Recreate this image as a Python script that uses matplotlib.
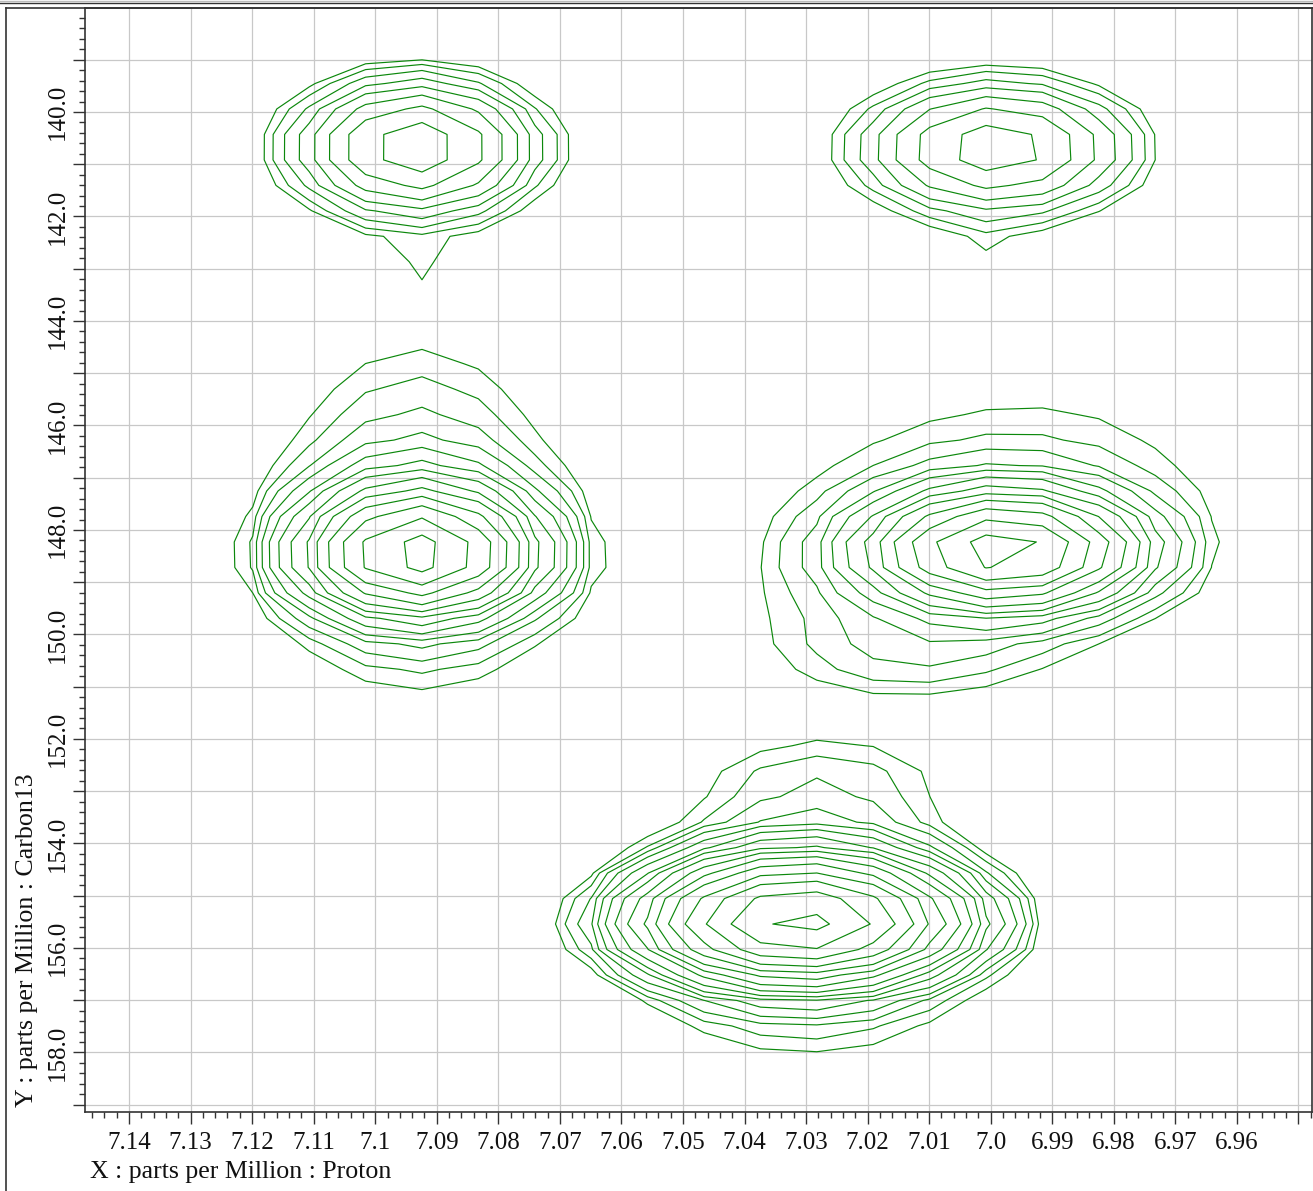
import numpy as np
import matplotlib
matplotlib.use("Agg")
import matplotlib.pyplot as plt
from matplotlib.ticker import FixedLocator, MultipleLocator
from matplotlib.lines import Line2D

plt.rcParams['font.family'] = ['Liberation Serif', 'DejaVu Serif']

# ---- sampling grid of the 2D spectrum (ppm) ----
proton_ppm = 7.0924 - 0.009164 * np.arange(-8, 18)
carbon_ppm = 148.23 + 0.4875 * np.arange(-23, 26)

# ---- spectral components (split Gaussians) ----
# centre (1H, 13C), height, 1H width, 13C width toward low / high ppm, skew
comp_h_ppm = [7.0935, 6.9992, 7.0932, 7.0932, 6.9980, 7.0024, 7.0140,
              7.0310, 7.0280, 7.0300, 7.0924, 7.0008]
comp_c_ppm = [140.67, 140.69, 148.48, 148.48, 148.40, 148.44, 150.40,
              155.50, 153.00, 157.20, 143.05, 142.75]
comp_height = [7.6, 5.7, 24.0, 2.88, 19.0, 2.0, 0.8,
               42.4, 1.7, 1.45, 0.65, 0.6]
comp_h_width = [0.0118, 0.0140, 0.0100, 0.0160, 0.0118, 0.0276, 0.0140,
                0.0137, 0.0160, 0.0200, 0.006, 0.005]
comp_c_width_lo = [0.82, 0.83, 0.745, 2.70, 0.64, 2.36, 0.55,
                   0.70, 0.75, 1.20, 0.35, 0.40]
comp_c_width_hi = [0.82, 0.83, 0.62, 1.75, 0.606, 1.80, 0.55,
                   0.62, 1.20, 0.90, 0.35, 0.40]
comp_skew = [0, 0, 0, 0, 0, 0.0028, 0,
             0, 0, 0, 0, 0]

# ---- contour levels (geometric) ----
contour_base = 1.0
contour_factor = 1.3
n_levels = 18

# ---- axis ticks ----
x_tick_values = [7.14, 7.13, 7.12, 7.11, 7.10, 7.09, 7.08, 7.07, 7.06, 7.05,
                 7.04, 7.03, 7.02, 7.01, 7.00, 6.99, 6.98, 6.97, 6.96, 6.95]
x_tick_labels = ['7.14', '7.13', '7.12', '7.11', '7.1', '7.09', '7.08', '7.07',
                 '7.06', '7.05', '7.04', '7.03', '7.02', '7.01', '7.0', '6.99',
                 '6.98', '6.97', '6.96', '']
y_tick_values = list(range(139, 160))
y_tick_labels = [f'{v:.1f}' if v % 2 == 0 else '' for v in y_tick_values]


H, C = np.meshgrid(proton_ppm, carbon_ppm)
Z = np.zeros_like(H)
for x0, y0, h, wx, wlo, whi, sk in zip(comp_h_ppm, comp_c_ppm, comp_height,
                                       comp_h_width, comp_c_width_lo,
                                       comp_c_width_hi, comp_skew):
    dy = C - y0
    u = (H - (x0 + sk * dy)) / wx
    v = np.where(dy < 0, dy / wlo, dy / whi)
    Z += h * np.exp(-0.5 * (u ** 2 + v ** 2))

levels = contour_base * contour_factor ** np.arange(n_levels)

W, Hpx = 1313, 1191
fig = plt.figure(figsize=(W / 100, Hpx / 100), dpi=100)
ax = fig.add_axes([85 / W, (Hpx - 1112) / Hpx, (1312 - 85) / W, (1112 - 8) / Hpx])

ax.contour(H, C, Z, levels=levels, colors='#0c880c', linewidths=0.85, zorder=3)

ax.set_xlim(7.14715, 6.9478)
ax.set_ylim(159.14, 138.01)

ax.xaxis.set_major_locator(FixedLocator(x_tick_values))
ax.set_xticklabels(x_tick_labels)
ax.xaxis.set_minor_locator(MultipleLocator(0.002))
ax.yaxis.set_major_locator(FixedLocator(y_tick_values))
ax.set_yticklabels(y_tick_labels, rotation=90, va='center')
ax.yaxis.set_minor_locator(MultipleLocator(0.2))

ax.tick_params(which='major', direction='out', length=8.5, width=1.0,
               color='#333333', labelsize=18, labelcolor='#111111')
ax.tick_params(which='minor', direction='out', length=4.5, width=1.0,
               color='#333333')
ax.tick_params(axis='x', which='major', pad=6)
ax.tick_params(axis='y', which='major', pad=3)

ax.grid(True, which='major', color='#c8c8c8', linewidth=0.9)
ax.set_axisbelow(True)
for s in ax.spines.values():
    s.set_color('#333333')
    s.set_linewidth(1.2)

fig.text(90 / W, 1 - 1172 / Hpx, 'X : parts per Million : Proton',
         ha='left', va='center', fontsize=18.6, color='#111111')
fig.text(27 / W, 1 - 1107 / Hpx, 'Y : parts per Million : Carbon13',
         rotation=90, ha='center', va='bottom', fontsize=18.6, color='#111111')

# page frame
fig.add_artist(Line2D([5.5 / W, 5.5 / W], [0, 1 - 8 / Hpx], transform=fig.transFigure,
                      color='#333333', linewidth=1.2))
fig.add_artist(Line2D([5.5 / W, 1], [1 - 8 / Hpx, 1 - 8 / Hpx], transform=fig.transFigure,
                      color='#333333', linewidth=1.2))
fig.add_artist(Line2D([0, 1], [1 - 2.5 / Hpx, 1 - 2.5 / Hpx], transform=fig.transFigure,
                      color='#333333', linewidth=1.0))
fig.add_artist(Line2D([0, 1], [1 - 0.5 / Hpx, 1 - 0.5 / Hpx], transform=fig.transFigure,
                      color='#bbbbbb', linewidth=1.0))

fig.savefig('out.png', dpi=100)
